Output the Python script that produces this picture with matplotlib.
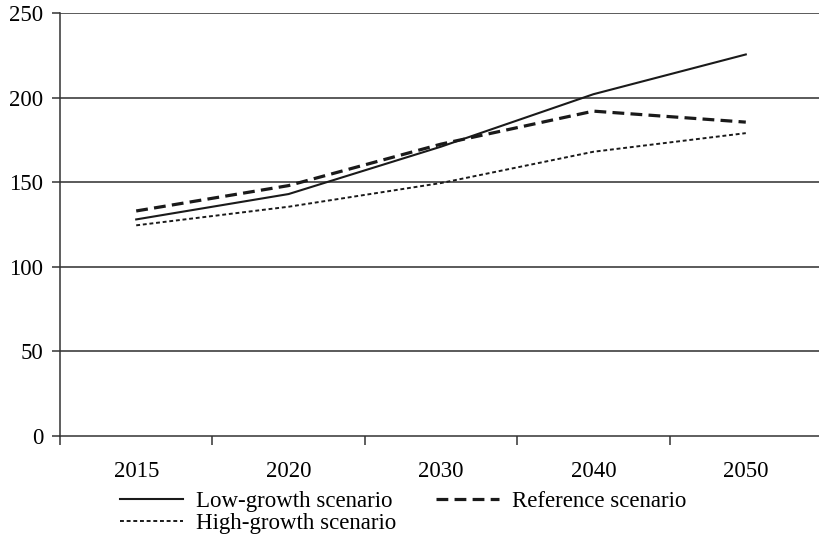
import numpy as np
import matplotlib
matplotlib.use("Agg")
import matplotlib.pyplot as plt

plt.rcParams['font.family'] = ['Liberation Serif', 'DejaVu Serif']
plt.rcParams['lines.scale_dashes'] = False

# Scenario values by year
years = ['2015', '2020', '2030', '2040', '2050']
low_growth = [128, 143, 171, 202, 225.5]
reference = [133, 148, 172.5, 192, 185.5]
high_growth = [124.5, 135.5, 149.5, 168, 179]

y_ticks = [0, 50, 100, 150, 200, 250]
line_col = '#1a1a1a'

fig = plt.figure(figsize=(8.2, 5.34), dpi=100)
ax = fig.add_axes([60 / 820, 98 / 534, 762 / 820, 423 / 534])

x = np.arange(len(years))
l_low, = ax.plot(x, low_growth, color=line_col, lw=1.5, label='Low-growth scenario')
l_ref, = ax.plot(x, reference, color=line_col, lw=2.3, dashes=(8.5, 4.5),
                 label='Reference scenario')
l_high, = ax.plot(x, high_growth, color=line_col, lw=1.4, dashes=(2.8, 2.0),
                  label='High-growth scenario')

ax.set_xlim(-0.5, len(years) - 0.5)
ax.set_ylim(0, 250)
ax.set_yticks(y_ticks)
ax.set_yticklabels([str(v) for v in y_ticks])

# category labels centred, tick marks on the boundaries
ax.set_xticks(x)
ax.set_xticklabels(years)
ax.set_xticks(np.arange(len(years)) - 0.5, minor=True)
ax.tick_params(axis='x', which='major', length=0, pad=18, labelsize=16.5)
ax.tick_params(axis='x', which='minor', length=6.5, width=1.1, color='#333333')
ax.tick_params(axis='y', length=6, width=1.1, color='#333333', pad=6, labelsize=16.5)

for v in y_ticks[1:]:
    ax.axhline(v, color='#2e2e2e', lw=1.1, zorder=0)

for side in ['top', 'right']:
    ax.spines[side].set_visible(False)
ax.spines['left'].set_color('#333333')
ax.spines['bottom'].set_color('#333333')
ax.spines['left'].set_linewidth(1.1)
ax.spines['bottom'].set_linewidth(1.1)

fig.legend(handles=[l_low, l_high, l_ref], ncol=2, frameon=False,
           loc='upper left', bbox_to_anchor=(120 / 820, 1 - 491 / 534),
           fontsize=16.5, handlelength=2.75, handletextpad=0.55,
           columnspacing=1.75, labelspacing=0.05, borderpad=0, borderaxespad=0)

fig.savefig('out.png', dpi=100)
